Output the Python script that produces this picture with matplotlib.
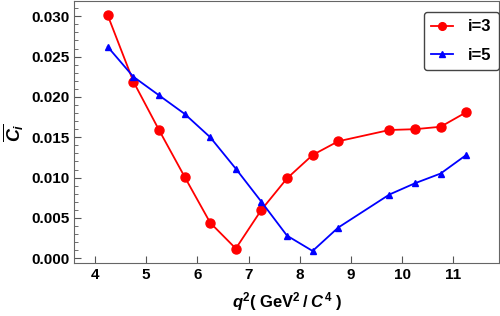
import matplotlib.pyplot as plt
from matplotlib.ticker import MultipleLocator

# q^2 bins (GeV^2/c^4)
q2 = [4.25, 4.75, 5.25, 5.75, 6.25, 6.75, 7.25, 7.75, 8.25, 8.75, 9.75, 10.25, 10.75, 11.25]

# averaged coefficients
c3 = [0.0301, 0.0219, 0.0159, 0.0101, 0.0044, 0.0012, 0.0060, 0.0099, 0.0128, 0.0145,
      0.0159, 0.0160, 0.0163, 0.0181]
c5 = [0.0262, 0.0225, 0.0202, 0.0179, 0.0150, 0.0111, 0.0070, 0.0028, 0.0009, 0.0038,
      0.0079, 0.0093, 0.0105, 0.0128]

plt.rcParams['font.family'] = ['Liberation Sans', 'DejaVu Sans']
plt.rcParams['font.weight'] = 'bold'
plt.rcParams['mathtext.fontset'] = 'custom'
plt.rcParams['mathtext.rm'] = 'Liberation Sans:bold'
plt.rcParams['mathtext.it'] = 'Liberation Sans:bold:italic'

fig = plt.figure(figsize=(5, 3.16), dpi=100)
ax = fig.add_axes([0.148, 0.167, 0.85, 0.83])

ax.plot(q2, c3, color='red', marker='o', markersize=6.5, linewidth=1.3, label='i=3')
ax.plot(q2, c5, color='blue', marker='^', markersize=5, linewidth=1.3, label='i=5')

ax.set_xlim(3.59, 11.89)
ax.set_ylim(-0.00062, 0.0319)
ax.xaxis.set_major_locator(MultipleLocator(1))
ax.yaxis.set_major_locator(MultipleLocator(0.005))
ax.yaxis.set_minor_locator(MultipleLocator(0.001))
ax.yaxis.set_major_formatter(plt.FuncFormatter(lambda v, p: f'{v:.3f}'))

ax.tick_params(which='both', direction='in', labelsize=11, color='#555555')
ax.tick_params(which='major', length=5)
ax.tick_params(which='minor', length=3)
for s in ax.spines.values():
    s.set_color('#666666')

ax.set_xlabel(r'$q^2(\;\mathrm{GeV}^2\,/\;C^4\;)$', fontsize=12, labelpad=6)
ax.set_ylabel(r'$\overline{C_i}$', fontsize=13, labelpad=4)

leg = ax.legend(loc='upper right', bbox_to_anchor=(1.0, 0.958), borderaxespad=0,
                fontsize=12, handlelength=1.3, markerscale=0.85,
                fancybox=True, framealpha=1, edgecolor='#444444', borderpad=0.45,
                labelspacing=0.8, handletextpad=0.9)
leg.get_frame().set_linewidth(1.0)

fig.savefig('out.png', dpi=100)
